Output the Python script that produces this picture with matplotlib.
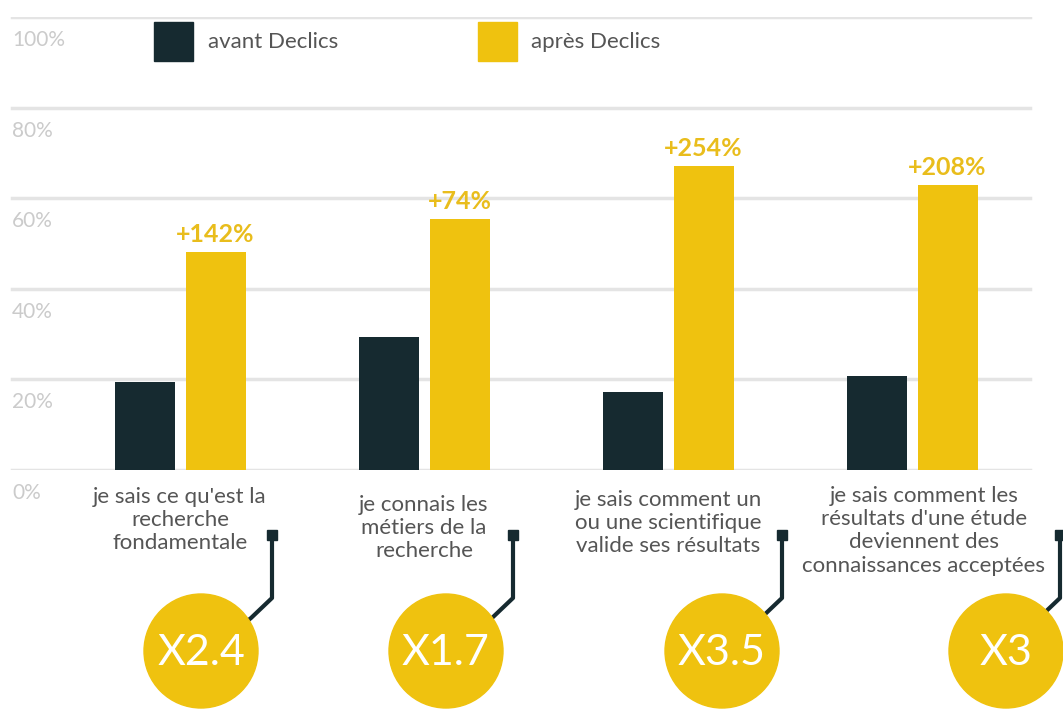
import matplotlib
matplotlib.use("Agg")
import matplotlib.pyplot as plt
import matplotlib.patches as patches

plt.rcParams['font.family'] = ['Lato', 'DejaVu Sans']

# Données
categories = [
    "je sais ce qu'est la\nrecherche\nfondamentale",
    "je connais les\nmétiers de la\nrecherche",
    "je sais comment un\nou une scientifique\nvalide ses résultats",
    "je sais comment les\nrésultats d'une étude\ndeviennent des\nconnaissances acceptées",
]
avant = [19.4, 29.4, 17.2, 20.8]
apres = [48.1, 55.4, 67.0, 62.9]
hausse = ["+142%", "+74%", "+254%", "+208%"]
facteur = ["X2.4", "X1.7", "X3.5", "X3"]
series = ["avant Declics", "après Declics"]
yticks = [0, 20, 40, 60, 80, 100]

DARK = '#162a30'
YELLOW = '#efc20f'
W, H = 1063, 709

fig = plt.figure(figsize=(W / 100, H / 100), dpi=100)

# axe principal : 0% a y=470px, 100% a y=17px
x0, step = 180, 244
ax = fig.add_axes([0, (H - 470) / H, 1, (470 - 17) / H])
ax.set_xlim(-x0 / step, (W - x0) / step)
ax.set_ylim(0, 100)
ax.axis('off')

for v in yticks:
    ax.axhline(v, xmin=12 / W, xmax=1030 / W, color='#e4e4e4', lw=2.5, zorder=0)
    ax.annotate(f"{v}%", xy=(12 / W, v), xycoords=ax.get_yaxis_transform(),
                xytext=(0, -13), textcoords='offset pixels',
                ha='left', va='top', fontsize=15, color='#cbcbcb')

bw = 60 / step
off = 35.5 / step
xs = list(range(len(categories)))
ax.bar([x - off for x in xs], avant, width=bw, color=DARK, zorder=2)
ax.bar([x + off for x in xs], apres, width=bw, color=YELLOW, zorder=2)

for x, v, t in zip(xs, apres, hausse):
    ax.annotate(t, xy=(x + off, v), xytext=(0, 6), textcoords='offset pixels',
                ha='center', va='bottom', fontsize=18, fontweight='bold',
                color='#e9bd1c')

# couche de decoration en pixels
deco = fig.add_axes([0, 0, 1, 1], zorder=3)
deco.set_xlim(0, W)
deco.set_ylim(H, 0)
deco.axis('off')

# Légende
deco.add_patch(patches.Rectangle((154, 22), 39, 39, color=DARK))
deco.text(208, 42, series[0], fontsize=16, color='#555555', va='center')
deco.add_patch(patches.Rectangle((478, 22), 39, 39, color=YELLOW))
deco.text(531, 42, series[1], fontsize=16, color='#555555', va='center')

# Étiquettes des catégories
label_y = [487, 495, 490, 486]
label_dx = [0, 0, 0, 12]
for i, (c, ly, dx) in enumerate(zip(categories, label_y, label_dx)):
    deco.text(x0 + step * i + dx, ly, c, ha='center', va='top',
              fontsize=16, color='#555555', linespacing=1.2)

# Cercles et connecteurs
circle_x = [201, 446, 722, 1006]
sq_x = [272, 513, 782, 1060]
for cx, sx, f in zip(circle_x, sq_x, facteur):
    deco.add_patch(patches.Rectangle((sx - 5, 530), 10, 10, color=DARK))
    deco.plot([sx, sx, sx - 21, sx - 26], [535, 598, 618, 622], color=DARK,
              lw=3, solid_capstyle='butt')
    deco.add_patch(patches.Circle((cx, 651), 57, color=YELLOW, zorder=3))
    deco.text(cx, 653, f, ha='center', va='center', fontsize=31,
              color='white', zorder=4)

fig.savefig('out.png', dpi=100)
